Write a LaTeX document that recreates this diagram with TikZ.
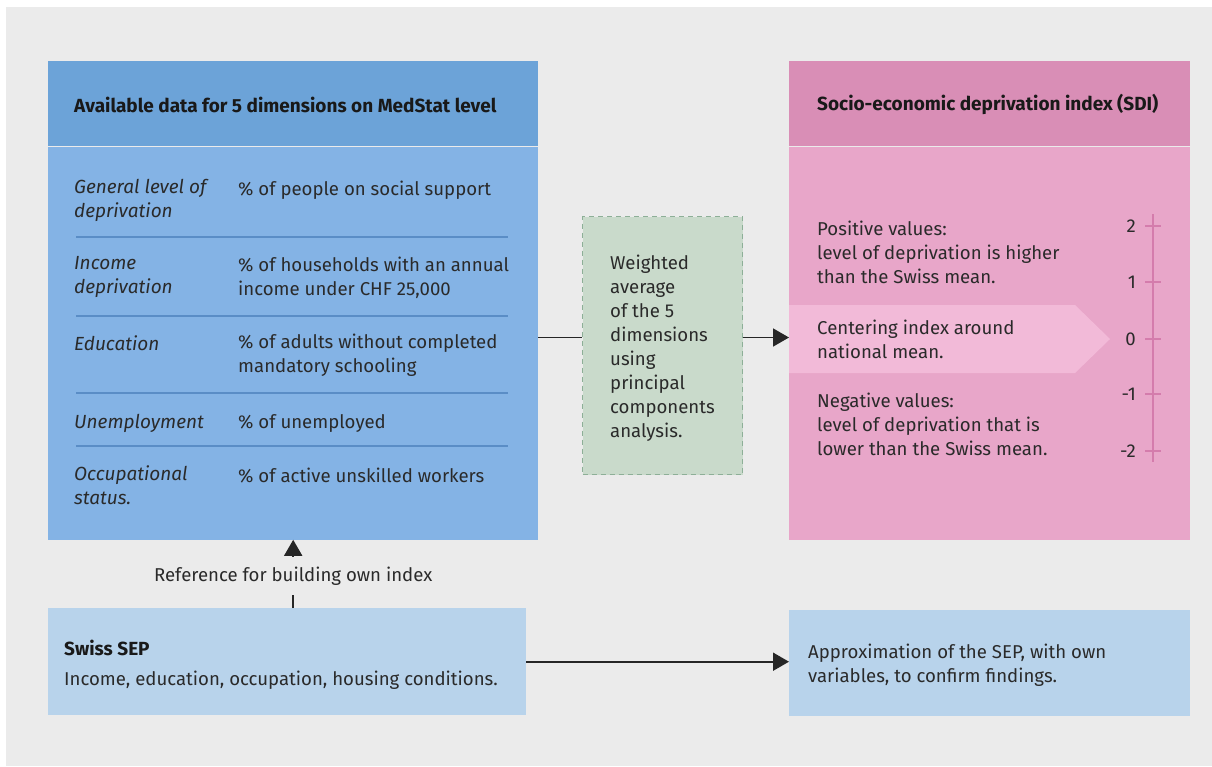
\documentclass[tikz,border=0pt]{standalone}
\usepackage{fontspec}
\setmainfont{Fira Sans}
\usetikzlibrary{positioning,arrows.meta}
\definecolor{bggray}{HTML}{EBEBEB}
\definecolor{bluehead}{HTML}{6CA3D8}
\definecolor{bluebody}{HTML}{84B3E5}
\definecolor{bluesep}{HTML}{5A8DC6}
\definecolor{greenfill}{HTML}{C9DACB}
\definecolor{greendash}{HTML}{8DAF97}
\definecolor{pinkhead}{HTML}{D98EB6}
\definecolor{pinkbody}{HTML}{E8A6C9}
\definecolor{pinkband}{HTML}{F2BAD8}
\definecolor{pinkaxis}{HTML}{D47CAC}
\definecolor{lightblue}{HTML}{B8D3EB}
\definecolor{txtcol}{HTML}{2A2A2A}

\begin{document}
\begin{tikzpicture}[x=1pt,y=-1pt,
  every node/.style={font=\fontsize{18.6}{24}\selectfont, text=txtcol},
  box/.style={rectangle, inner sep=0pt, anchor=north west},
  lbl/.style={anchor=north west, align=left, inner sep=0pt, yshift=13.3pt, execute at begin node=\strut},
  hdr/.style={anchor=west, inner sep=0pt, font=\fontsize{19}{24}\selectfont\bfseries, text=black!90},
  sepline/.style={draw=bluesep, line width=1.2pt},
  axisline/.style={draw=pinkaxis, line width=1.2pt},
  conn/.style={line width=1.7pt, draw=black!85},
  arrowline/.style={conn, -{Triangle[length=16pt,width=18pt]}}]
\fill[white] (0,0) rectangle (1212,766);
\fill[bggray] (6,7) rectangle (1212,766);
\useasboundingbox (0,0) rectangle (1212,766);

\node[box, fill=bluehead, minimum width=490pt, minimum height=85pt] (datahead) at (48,61) {};
\node[hdr] (datatitle) at ([xshift=26pt,yshift=-1pt]datahead.west) {Available data for 5 dimensions on MedStat level};
\node[box, fill=bluebody, minimum width=490pt, minimum height=393pt] (databody) at (datahead.south west) {};
\foreach \y/\dim/\var [count=\i] in {192/{General level of\\deprivation}/{\% of people on social support},
    270/{Income\\deprivation}/{\% of households with an annual\\income under CHF 25,000},
    347/{Education}/{\% of adults without completed\\mandatory schooling},
    425/{Unemployment}/{\% of unemployed},
    479/{Occupational\\status.}/{\% of active unskilled workers}}
  {\node[lbl, font=\fontsize{19}{24}\selectfont\itshape] (dim\i) at (74,\y) {\dim};
   \node[lbl] (var\i) at (238,\y) {\var};}
\foreach \y in {237,316,393,446}
  \draw[sepline] (76,\y) -- (508,\y);

\node[box, fill=greenfill, draw=greendash, line width=1pt, dash pattern=on 5pt off 4pt,
  minimum width=160pt, minimum height=258pt] (pca) at (582,216) {};
\node[lbl] (pcatext) at (610,268) {Weighted\\average\\of the 5\\dimensions\\using\\principal\\components\\analysis.};

\node[box, fill=pinkhead, minimum width=401pt, minimum height=85pt] (sdihead) at (789,61) {};
\node[hdr] (sdititle) at ([xshift=28pt,yshift=-1pt]sdihead.west) {Socio-economic deprivation index (SDI)};
\node[box, fill=pinkbody, minimum width=401pt, minimum height=393pt] (sdibody) at (sdihead.south west) {};
\fill[pinkband] (789,305) -- (1075,305) -- (1110,339) -- (1075,373) -- (789,373) -- cycle;
\node[lbl] (positive) at (817,234) {Positive values:\\level of deprivation is higher\\than the Swiss mean.};
\node[lbl] (centering) at (817,333) {Centering index around\\national mean.};
\node[lbl] (negative) at (817,406) {Negative values:\\level of deprivation that is\\lower than the Swiss mean.};
\draw[axisline] (1153,214) -- (1153,462);
\foreach \v/\y [count=\i] in {2/226,1/282,0/339,-1/394,-2/451}
  {\draw[axisline] (1145,\y) -- (1161,\y);
   \node[anchor=east, inner sep=0pt] (tick\i) at (1136,\y) {\v};}

\node[box, fill=lightblue, minimum width=478pt, minimum height=107pt] (sep) at (48,608) {};
\node[hdr, anchor=base west] (septitle) at (64,655) {Swiss SEP};
\node[lbl] (septext) at (64,682) {Income, education, occupation, housing conditions.};
\node[box, fill=lightblue, minimum width=401pt, minimum height=106pt] (approx) at (789,610) {};
\node[lbl] (approxtext) at (808,657) {Approximation of the SEP, with own\\variables, to confirm findings.};

\coordinate (pcain) at ([yshift=8pt]pca.west);
\coordinate (pcaout) at ([yshift=8pt]pca.east);
\draw[conn] (databody.east |- pcain) -- (pcain);
\draw[arrowline] (pcaout) -- (pcaout -| sdibody.west);
\draw[arrowline] (databody.south |- sep.north) -- node[pos=0.47, fill=bggray, inner xsep=2pt, inner ysep=10pt] (reflabel) {Reference for building own index} (databody.south);
\draw[arrowline] (sep.east) -- (sep.east -| approx.west);
\end{tikzpicture}
\end{document}
